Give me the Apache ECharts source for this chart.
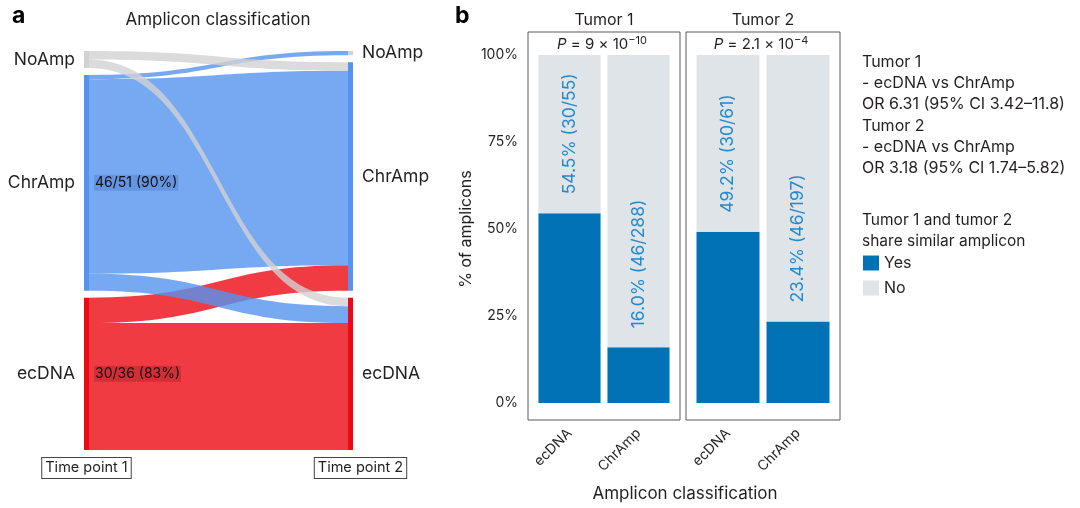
<!DOCTYPE html>
<html><head><meta charset="utf-8">
<script src="https://cdn.jsdelivr.net/npm/echarts@6/dist/echarts.min.js"></script>
<style>html,body{margin:0;padding:0;background:#fff}#c{width:1080px;height:508px}</style>
</head><body><div id="c"></div>
<script>
const FONT = 'Inter, "Liberation Sans", Arial, sans-serif';
const TXT = '#231F20';

// ---------- Panel a: Sankey (amplicon classification over time) ----------
const classes = ['NoAmp', 'ChrAmp', 'ecDNA'];
const classColors = ['#D2D2D2', '#5593F0', '#EC0A14'];
const linkSource = ['ecDNA', 'ecDNA', 'ChrAmp', 'ChrAmp', 'ChrAmp', 'NoAmp', 'NoAmp'];
const linkTarget = ['ChrAmp', 'ecDNA', 'NoAmp', 'ChrAmp', 'ecDNA', 'ChrAmp', 'ecDNA'];
const linkValue = [6, 30, 1, 46, 4, 2, 2];
const retainedLabels = ['', '46/51 (90%)', '30/36 (83%)'];
const timePoints = ['Time point 1', 'Time point 2'];

// ---------- Panel b: stacked bars ----------
const tumors = ['Tumor 1', 'Tumor 2'];
const ampClasses = ['ecDNA', 'ChrAmp'];
const yesT1 = [54.5, 16.0];
const yesT2 = [49.2, 23.4];
const barLabelsT1 = ['54.5% (30/55)', '16.0% (46/288)'];
const barLabelsT2 = ['49.2% (30/61)', '23.4% (46/197)'];
const pMantissa = ['9', '2.1'];
const pExponent = ['\u221210', '\u22124'];
const yTicks = [0, 25, 50, 75, 100];
const oddsText = ['Tumor 1', '- ecDNA vs ChrAmp', 'OR 6.31 (95% CI 3.42\u201311.8)',
                  'Tumor 2', '- ecDNA vs ChrAmp', 'OR 3.18 (95% CI 1.74\u20135.82)'];
const legendTitle = ['Tumor 1 and tumor 2', 'share similar amplicon'];
const legendNames = ['Yes', 'No'];
const yesColor = '#0072B5';
const noColor = '#DFE4E8';
const barLabelColor = '#2189CF';

const chart = echarts.init(document.getElementById('c'), null, {renderer: 'canvas'});

const SK = {left: 84, top: 51, right: 727, bottom: 58};

const nodes = [];
[1, 2].forEach(t => classes.forEach((c, i) => {
  nodes.push({
    name: c + t,
    itemStyle: {color: classColors[i], opacity: 1},
    label: {position: t === 1 ? 'left' : 'right'}
  });
}));
const links = linkValue.map((v, i) => ({source: linkSource[i] + '1', target: linkTarget[i] + '2', value: v}));

function barSeries(yes, labels, xi, stackName) {
  return [
    {type: 'bar', name: 'Yes', xAxisIndex: xi, yAxisIndex: xi, stack: stackName,
     barWidth: '90%', itemStyle: {color: yesColor}, data: yes, silent: true},
    {type: 'bar', name: 'No', xAxisIndex: xi, yAxisIndex: xi, stack: stackName,
     barWidth: '90%', itemStyle: {color: noColor}, silent: true,
     data: yes.map(v => +(100 - v).toFixed(1)),
     label: {show: true, position: 'insideBottom', distance: 19, rotate: 90,
             align: 'left', verticalAlign: 'middle', fontSize: 17.5, fontFamily: FONT,
             color: barLabelColor, formatter: p => labels[p.dataIndex]}}
  ];
}

const catAxis = (gi) => ({
  type: 'category', gridIndex: gi, data: ampClasses,
  axisLine: {show: false}, axisTick: {show: false},
  axisLabel: {rotate: 45, margin: 28, fontSize: 14, color: TXT, fontFamily: FONT}
});
const valAxis = (gi, showLabels) => ({
  type: 'value', gridIndex: gi, min: 0, max: 100, interval: 25,
  splitLine: {show: false}, axisLine: {show: false}, axisTick: {show: false},
  axisLabel: {show: showLabels, formatter: '{value}%', fontSize: 14, color: TXT, fontFamily: FONT, margin: 17},
  name: showLabels ? '% of amplicons' : '', nameLocation: 'middle', nameGap: 61,
  nameTextStyle: {fontSize: 16, color: TXT, fontFamily: FONT}
});
const hiddenX = gi => ({type: 'value', gridIndex: gi, show: false});
const hiddenY = gi => ({type: 'value', gridIndex: gi, show: false});

chart.setOption({
  animation: false,
  textStyle: {fontFamily: FONT},
  grid: [
    {left: 535, top: 55, width: 138, height: 348},
    {left: 693, top: 55, width: 140, height: 348},
    {left: 528, top: 32, width: 152, height: 388, show: true, borderColor: '#5A5A5A', borderWidth: 1, backgroundColor: 'transparent', z: 5},
    {left: 686, top: 32, width: 154, height: 388, show: true, borderColor: '#5A5A5A', borderWidth: 1, backgroundColor: 'transparent', z: 5}
  ],
  xAxis: [catAxis(0), catAxis(1), hiddenX(2), hiddenX(3)],
  yAxis: [valAxis(0, true), valAxis(1, false), hiddenY(2), hiddenY(3)],
  legend: {
    data: legendNames, orient: 'vertical', left: 858, top: 250,
    itemWidth: 16, itemHeight: 15, itemGap: 9, icon: 'rect', selectedMode: false,
    textStyle: {fontSize: 16, color: TXT, fontFamily: FONT}
  },
  series: [
    {
      type: 'sankey', left: SK.left, top: SK.top, right: SK.right, bottom: SK.bottom,
      nodeWidth: 5, nodeGap: 7, layoutIterations: 0, draggable: false, silent: true,
      data: nodes, links: links,
      lineStyle: {color: 'source', opacity: 0.8, curveness: 0.5},
      label: {fontSize: 17.5, color: TXT, fontFamily: FONT, distance: 9,
              formatter: p => p.name.slice(0, -1)},
      emphasis: {disabled: true}
    },
    ...barSeries(yesT1, barLabelsT1, 0, 't1'),
    ...barSeries(yesT2, barLabelsT2, 1, 't2')
  ]
});

// Build annotations from the computed layouts
const graph = chart.getModel().getSeriesByIndex(0).getGraph();
const g = [];
const txt = (x, y, text, extra) => ({type: 'text', x: x, y: y, z: 100, silent: true,
  style: Object.assign({text: text, fontFamily: FONT, fill: TXT, fontSize: 15}, extra || {})});

g.push(txt(12, 16, 'a', {fontSize: 23, fontWeight: 'bold', verticalAlign: 'middle', fill: '#000'}));
g.push(txt(455, 16, 'b', {fontSize: 23, fontWeight: 'bold', verticalAlign: 'middle', fill: '#000'}));
g.push(txt(218, 20, 'Amplicon classification', {fontSize: 17, align: 'center', verticalAlign: 'middle'}));

// retained-fraction labels inside left nodes
classes.forEach((c, i) => {
  if (!retainedLabels[i]) return;
  const L = graph.getNodeByIndex(i).getLayout();
  g.push(txt(SK.left + L.x + L.dx + 5, SK.top + L.y + L.dy / 2, retainedLabels[i], {
    fontSize: 14, verticalAlign: 'middle', fill: '#111',
    backgroundColor: i === 1 ? 'rgba(20,60,140,0.18)' : 'rgba(110,0,10,0.22)', padding: [1, 1, 1, 1]
  }));
});
// time point boxes
[0, 3].forEach((ni, k) => {
  const L = graph.getNodeByIndex(ni).getLayout();
  const cx = SK.left + L.x + L.dx / 2 + (k === 1 ? 10 : 0);
  g.push(txt(cx, 468, timePoints[k], {fontSize: 14.5, align: 'center', verticalAlign: 'middle',
    borderColor: '#444', borderWidth: 1, padding: [3, 3, 2, 3], backgroundColor: '#fff'}));
});

// facet strips and P values
const boxCenters = [604, 763];
tumors.forEach((t, k) => {
  g.push(txt(boxCenters[k], 20, t, {fontSize: 16, align: 'center', verticalAlign: 'middle'}));
  g.push(txt(boxCenters[k] - 2, 44, '{i|P} = ' + pMantissa[k] + ' \u00d7 10{s|' + pExponent[k] + '}', {
    fontSize: 15, align: 'center', verticalAlign: 'middle',
    rich: {i: {fontStyle: 'italic', fontSize: 15, fontFamily: FONT, fill: TXT},
           s: {fontSize: 11, fontFamily: FONT, fill: TXT, verticalAlign: 'top', padding: [0, 0, 7, 0]}}
  }));
});
g.push(txt(685, 494, 'Amplicon classification', {fontSize: 17, align: 'center', verticalAlign: 'middle'}));
g.push(txt(862, 51.5, oddsText.join('\n'), {fontSize: 16, lineHeight: 21.2, verticalAlign: 'top'}));
g.push(txt(862, 209.5, legendTitle.join('\n'), {fontSize: 15.5, lineHeight: 21, verticalAlign: 'top'}));

chart.setOption({graphic: g});
</script>
</body></html>
